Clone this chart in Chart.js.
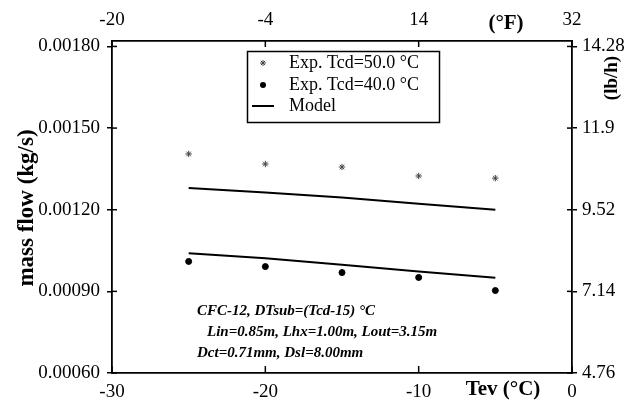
<!DOCTYPE html>
<html><head><meta charset="utf-8">
<script src="https://cdn.jsdelivr.net/npm/chart.js@4/dist/chart.umd.min.js"></script>
<style>html,body{margin:0;padding:0;background:#fff}#wrap{width:641px;height:403px;position:relative}</style>
</head><body><div id="wrap"><canvas id="c" width="641" height="403"></canvas></div>
<script>
const tevC = [-25, -20, -15, -10, -5];
const exp50 = [0.001405, 0.001368, 0.001357, 0.001324, 0.001316];
const exp40 = [0.00101, 0.000991, 0.000969, 0.000951, 0.000903];
const model50 = [0.00128, 0.001263, 0.001245, 0.001222, 0.0012];
const model40 = [0.00104, 0.001022, 0.000998, 0.000973, 0.00095];
const bottomTicks = [-30, -20, -10, 0];
const topTickLabels = ['-20', '-4', '14', '32'];
const leftTicks = [0.0006, 0.0009, 0.0012, 0.0015, 0.0018];
const leftTickLabels = ['0.00060', '0.00090', '0.00120', '0.00150', '0.00180'];
const rightTickLabels = ['4.76', '7.14', '9.52', '11.9', '14.28'];
const legendLabels = ['Exp. Tcd=50.0 \u00B0C', 'Exp. Tcd=40.0 \u00B0C', 'Model'];
const noteLines = ['CFC-12, DTsub=(Tcd-15) \u00B0C', 'Lin=0.85m, Lhx=1.00m, Lout=3.15m', 'Dct=0.71mm, Dsl=8.00mm'];
const titles = {left: 'mass flow (kg/s)', right: '(lb/h)', top: '(\u00B0F)', bottom: 'Tev (\u00B0C)'};

const SERIF = "'Liberation Serif', 'Times New Roman', serif";
const pts = ys => tevC.map((x, i) => ({x: x, y: ys[i]}));

function drawStar(ctx, x, y, r) {
  ctx.beginPath();
  for (let k = 0; k < 4; k++) {
    const a = k * Math.PI / 4;
    ctx.moveTo(x - r * Math.cos(a), y - r * Math.sin(a));
    ctx.lineTo(x + r * Math.cos(a), y + r * Math.sin(a));
  }
  ctx.stroke();
}

const decor = {
  id: 'decor',
  afterDraw(chart) {
    const ctx = chart.ctx, a = chart.chartArea;
    const sx = chart.scales.x, sy = chart.scales.y;
    ctx.save();
    ctx.strokeStyle = '#000'; ctx.fillStyle = '#000'; ctx.lineWidth = 1.5;
    const line = (x1, y1, x2, y2) => { ctx.beginPath(); ctx.moveTo(x1, y1); ctx.lineTo(x2, y2); ctx.stroke(); };
    bottomTicks.forEach(v => { const px = sx.getPixelForValue(v); line(px, a.bottom, px, a.bottom - 7); line(px, a.top, px, a.top + 6); });
    leftTicks.forEach(v => { const py = sy.getPixelForValue(v); line(a.left, py, a.left + 5, py); line(a.right, py, a.right - 5, py); });

    // axis titles
    ctx.textBaseline = 'middle';
    ctx.textAlign = 'center';
    ctx.font = 'bold 23px ' + SERIF;
    ctx.save(); ctx.translate(27, 208); ctx.rotate(-Math.PI / 2); ctx.fillText(titles.left, 0, 0); ctx.restore();
    ctx.font = 'bold 19px ' + SERIF;
    ctx.save(); ctx.translate(612, 78); ctx.rotate(-Math.PI / 2); ctx.fillText(titles.right, 0, 0); ctx.restore();
    ctx.font = 'bold 21px ' + SERIF;
    ctx.fillText(titles.top, 506, 24);
    ctx.font = 'bold 21px ' + SERIF;
    ctx.fillText(titles.bottom, 503, 390);

    // notes
    ctx.textAlign = 'left';
    ctx.font = 'italic bold 15px ' + SERIF;
    ctx.fillText(noteLines[0], 197, 311);
    ctx.fillText(noteLines[1], 207, 332);
    ctx.fillText(noteLines[2], 197, 353);

    // legend
    ctx.lineWidth = 1.5;
    ctx.strokeRect(247.5, 51.5, 192, 71);
    const rows = [63, 85, 106];
    ctx.font = '18px ' + SERIF;
    legendLabels.forEach((t, i) => ctx.fillText(t, 289, rows[i]));
    ctx.strokeStyle = '#444'; ctx.lineWidth = 1;
    drawStar(ctx, 263, rows[0], 3);
    ctx.fillStyle = '#000';
    ctx.beginPath(); ctx.arc(263, rows[1], 3, 0, Math.PI * 2); ctx.fill();
    ctx.strokeStyle = '#000'; ctx.lineWidth = 2;
    line(252, rows[2], 274, rows[2]);
    ctx.restore();
  }
};

const tickFont = {family: SERIF, size: 19};
const common = {
  grid: {drawOnChartArea: false, color: '#000', lineWidth: 1.5},
  border: {display: true, color: '#000', width: 1.8},
};

new Chart(document.getElementById('c'), {
  type: 'scatter',
  data: {
    datasets: [
      {label: legendLabels[0], data: pts(exp50), pointStyle: 'star', pointRadius: 3.2, borderColor: '#444', backgroundColor: '#444', borderWidth: 1, showLine: false},
      {label: legendLabels[1], data: pts(exp40), pointStyle: 'circle', pointRadius: 3, borderColor: '#000', backgroundColor: '#000', borderWidth: 1, showLine: false},
      {label: legendLabels[2], data: pts(model50), showLine: true, pointRadius: 0, borderColor: '#000', borderWidth: 2, fill: false},
      {label: legendLabels[2] + ' 40', data: pts(model40), showLine: true, pointRadius: 0, borderColor: '#000', borderWidth: 2, fill: false}
    ]
  },
  options: {
    responsive: false,
    animation: false,
    layout: {padding: 0},
    plugins: {legend: {display: false}, tooltip: {enabled: false}},
    scales: {
      x: Object.assign({}, common, {
        type: 'linear', position: 'bottom', min: -30, max: 0,
        afterBuildTicks: s => { s.ticks = bottomTicks.map(v => ({value: v})); },
        afterFit: s => { s.height = 30; },
        grid: {drawOnChartArea: false, drawTicks: false, color: '#000'},
        ticks: {font: tickFont, color: '#000', padding: 8, maxRotation: 0}
      }),
      x2: Object.assign({}, common, {
        type: 'linear', position: 'top', min: -30, max: 0,
        afterBuildTicks: s => { s.ticks = bottomTicks.map(v => ({value: v})); },
        afterFit: s => { s.height = 41; },
        grid: {drawOnChartArea: false, drawTicks: false, color: '#000'},
        ticks: {font: tickFont, color: '#000', padding: 10, maxRotation: 0, callback: (v, i) => topTickLabels[i]}
      }),
      y: Object.assign({}, common, {
        type: 'linear', position: 'left', min: 0.0006, max: 0.00182,
        afterBuildTicks: s => { s.ticks = leftTicks.map(v => ({value: v})); },
        afterFit: s => { s.width = 112; },
        grid: {drawOnChartArea: false, color: '#000', lineWidth: 1.5, tickLength: 5},
        ticks: {font: tickFont, color: '#000', padding: 7, callback: (v, i) => leftTickLabels[i]}
      }),
      y2: Object.assign({}, common, {
        type: 'linear', position: 'right', min: 0.0006, max: 0.00182,
        afterBuildTicks: s => { s.ticks = leftTicks.map(v => ({value: v})); },
        afterFit: s => { s.width = 69; },
        grid: {drawOnChartArea: false, color: '#000', lineWidth: 1.5, tickLength: 5},
        ticks: {font: tickFont, color: '#000', padding: 5, callback: (v, i) => rightTickLabels[i]}
      })
    }
  },
  plugins: [decor]
});
</script>
</body></html>
